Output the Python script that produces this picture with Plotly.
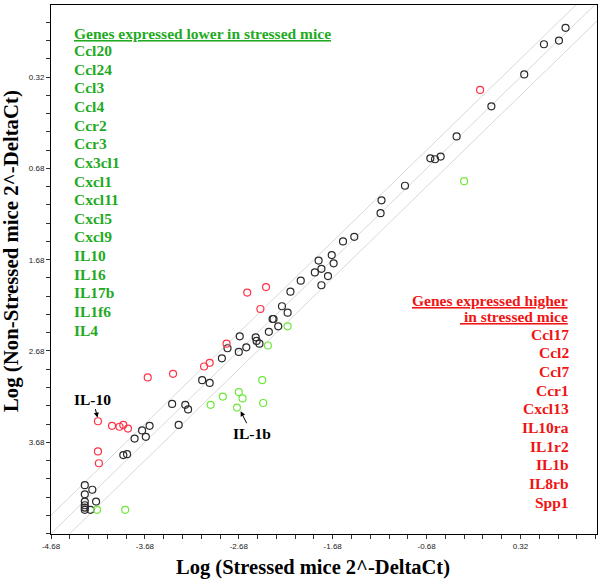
import plotly.graph_objects as go

# ---------------- data ----------------
black_x = [0.80, 0.57, 0.73, 0.36, 0.01, -0.36, -0.64, -0.59, -0.53, -0.91,
           -1.16, -1.17, -1.45, -1.57, -1.83, -1.69, -1.87, -1.80, -1.67, -1.73,
           -1.80, -2.02, -2.13, -2.22, -2.16, -2.32, -2.31, -2.26, -2.36, -2.50,
           -2.67, -2.49, -2.46, -2.80, -2.60, -2.68, -2.86, -3.07, -2.99, -3.39,
           -3.25, -3.22, -3.32, -3.63, -3.71, -3.79, -3.67, -3.91, -3.87, -4.32,
           -4.32, -4.24, -4.20, -4.32, -4.32, -4.32, -4.32, -4.26]
black_y = [0.86, 0.68, 0.72, 0.35, 0.00, -0.33, -0.57, -0.58, -0.55, -0.87,
           -1.03, -1.17, -1.43, -1.48, -1.69, -1.63, -1.82, -1.78, -1.72, -1.86,
           -1.96, -1.91, -2.03, -2.19, -2.26, -2.33, -2.33, -2.41, -2.47, -2.53,
           -2.52, -2.57, -2.60, -2.65, -2.64, -2.69, -2.76, -3.00, -3.03, -3.26,
           -3.27, -3.32, -3.49, -3.50, -3.55, -3.64, -3.62, -3.82, -3.81, -4.15,
           -4.25, -4.20, -4.33, -4.33, -4.37, -4.395, -4.42, -4.42]

red_x = [-0.11, -2.59, -2.39, -2.45, -2.81, -2.99, -3.05, -3.38, -3.65, -4.18,
         -4.03, -3.95, -3.91, -3.86, -4.18, -4.17]
red_y = [0.18, -2.04, -1.98, -2.22, -2.60, -2.81, -2.85, -2.93, -2.97, -3.45,
         -3.50, -3.51, -3.49, -3.53, -3.78, -3.91]

green_x = [-0.28, -2.16, -2.37, -2.43, -2.68, -2.85, -2.64, -2.98, -2.70, -2.42,
           -4.19, -3.89]
green_y = [-0.82, -2.41, -2.62, -3.00, -3.13, -3.18, -3.20, -3.27, -3.30, -3.25,
           -4.42, -4.42]

band_offsets = [-0.2, 0.0, 0.2]

lower_genes = ["Ccl20", "Ccl24", "Ccl3", "Ccl4", "Ccr2", "Ccr3", "Cx3cl1", "Cxcl1",
               "Cxcl11", "Cxcl5", "Cxcl9", "IL10", "IL16", "IL17b", "IL1f6", "IL4"]
higher_genes = ["Ccl17", "Ccl2", "Ccl7", "Ccr1", "Cxcl13", "IL10ra", "IL1r2",
                "IL1b", "IL8rb", "Spp1"]

x_tickvals = [-4.68, -3.68, -2.68, -1.68, -0.68, 0.32]
x_ticktext = ["-4.68", "-3.68", "-2.68", "-1.68", "-0.68", "0.32"]
y_tickvals = [0.32, -0.68, -1.68, -2.68, -3.68]
y_ticktext = ["0.32", "0.68", "1.68", "2.68", "3.68"]

X_RANGE = [-4.68, 1.135]
Y_RANGE = [-4.685, 1.11]

# ---------------- layout geometry (pixels) ----------------
W, H = 600, 581
ML, MR, MT, MB = 51, 3, 5, 47
PW, PH = W - ML - MR, H - MT - MB


def px(xp):
    return (xp - ML) / PW


def py(yp):
    return (H - MB - yp) / PH


SERIF = "Liberation Serif, Times New Roman, serif"
GREEN_TXT = "#1faa1f"
RED_TXT = "#f01414"

fig = go.Figure()

for off in band_offsets:
    fig.add_trace(go.Scatter(
        x=[X_RANGE[0] - 1, X_RANGE[1] + 1],
        y=[X_RANGE[0] - 1 + off, X_RANGE[1] + 1 + off],
        mode="lines", line=dict(color="#d6dada", width=1),
        hoverinfo="skip", showlegend=False))

for xs, ys, col in [(black_x, black_y, "#2a2a2a"),
                    (red_x, red_y, "#ff3347"),
                    (green_x, green_y, "#6ee83a")]:
    fig.add_trace(go.Scatter(
        x=xs, y=ys, mode="markers", showlegend=False,
        marker=dict(symbol="circle-open", size=7, color=col,
                    line=dict(width=1.2, color=col))))

ann = []
# green list
ann.append(dict(text="<u>Genes expressed lower in stressed mice</u>",
                x=px(72), y=py(33.3), xref="paper", yref="paper",
                xanchor="left", yanchor="middle", showarrow=False,
                font=dict(family=SERIF, size=15.5, color=GREEN_TXT, weight="bold")))
for i, g in enumerate(lower_genes):
    ann.append(dict(text=g, x=px(72), y=py(50.7 + i * 18.62),
                    xref="paper", yref="paper", xanchor="left", yanchor="middle",
                    showarrow=False,
                    font=dict(family=SERIF, size=15.5, color=GREEN_TXT, weight="bold")))
# red list
for t, yy in [("<u>Genes expressed higher</u>", 300.0),
              ("<u> in stressed mice</u>", 316.7)]:
    ann.append(dict(text=t, x=px(570), y=py(yy), xref="paper", yref="paper",
                    xanchor="right", yanchor="middle", showarrow=False,
                    font=dict(family=SERIF, size=15.5, color=RED_TXT, weight="bold")))
for i, g in enumerate(higher_genes):
    ann.append(dict(text=g, x=px(571), y=py(334.3 + i * 18.67),
                    xref="paper", yref="paper", xanchor="right", yanchor="middle",
                    showarrow=False,
                    font=dict(family=SERIF, size=15.5, color=RED_TXT, weight="bold")))

# point labels with arrows
ann.append(dict(text="IL-10", x=-4.185, y=-3.41, xref="x", yref="y",
                ax=-4.5, ay=-18.5, showarrow=True, arrowhead=2, arrowsize=1,
                arrowwidth=1, arrowcolor="black", standoff=0,
                font=dict(family=SERIF, size=15.5, color="black", weight="bold")))
ann.append(dict(text="IL-1b", x=-2.66, y=-3.34, xref="x", yref="y",
                ax=11, ay=22, showarrow=True, arrowhead=2, arrowsize=1,
                arrowwidth=1, arrowcolor="black", standoff=0,
                font=dict(family=SERIF, size=15.5, color="black", weight="bold")))

# axis titles
ann.append(dict(text="Log (Stressed mice 2^-DeltaCt)", x=px(313), y=py(567),
                xref="paper", yref="paper", xanchor="center", yanchor="middle",
                showarrow=False,
                font=dict(family=SERIF, size=20.5, color="black", weight="bold")))
ann.append(dict(text="Log (Non-Stressed mice 2^-DeltaCt)", x=px(11), y=py(251),
                xref="paper", yref="paper", xanchor="center", yanchor="middle",
                textangle=-90, showarrow=False,
                font=dict(family=SERIF, size=20.8, color="black", weight="bold")))

axis_common = dict(showgrid=False, zeroline=False, showline=True, linecolor="black",
                   linewidth=1, mirror=True, ticks="outside", ticklen=4,
                   tickcolor="#333", tickwidth=1,
                   tickfont=dict(family="Liberation Sans, Arial, sans-serif",
                                 size=8, color="#222"),
                   tickmode="array")

fig.update_layout(
    width=W, height=H,
    margin=dict(l=ML, r=MR, t=MT, b=MB),
    paper_bgcolor="white", plot_bgcolor="white",
    xaxis=dict(range=X_RANGE, tickvals=x_tickvals, ticktext=x_ticktext,
               minor=dict(tickmode="linear", tick0=-4.68, dtick=0.2, ticks="outside",
                          ticklen=4, tickcolor="#333"),
               **axis_common),
    yaxis=dict(range=Y_RANGE, tickvals=y_tickvals, ticktext=y_ticktext,
               minor=dict(tickmode="linear", tick0=0.32, dtick=0.2, ticks="outside",
                          ticklen=4, tickcolor="#333"),
               **axis_common),
    annotations=ann,
)

fig.write_html("out.html",
               config={"displayModeBar": False},
               post_script="document.body.style.margin='0';"
                           "document.body.style.overflow='hidden';")
